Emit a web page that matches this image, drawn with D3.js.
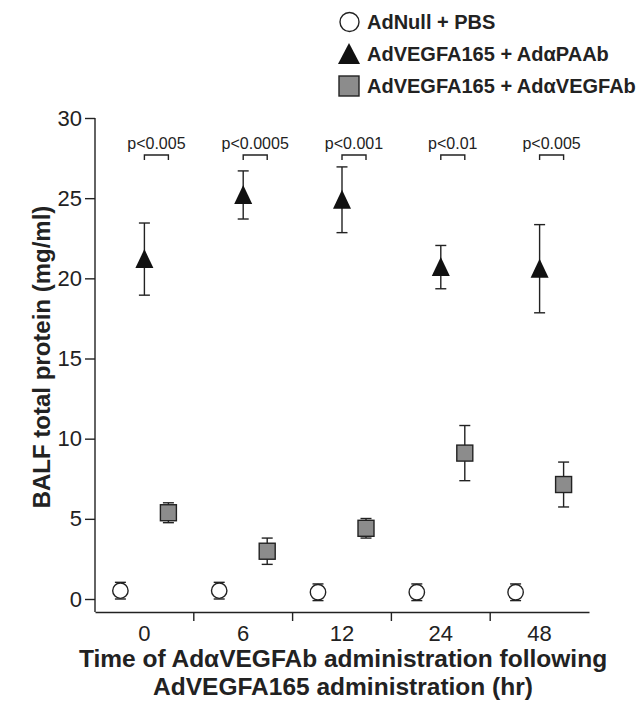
<!DOCTYPE html>
<html>
<head>
<meta charset="utf-8">
<script src="https://cdn.jsdelivr.net/npm/d3@7"></script>
<style>
  body { margin: 0; background: #fff; }
  svg { display: block; font-family: "Liberation Sans", Arial, Helvetica, sans-serif; }
</style>
</head>
<body>
<div id="chart"></div>
<script>
// values (mg/ml, mean and error)
const timepoints = ["0", "6", "12", "24", "48"];
const seriesNames = ["AdNull + PBS", "AdVEGFA165 + AdαPAAb", "AdVEGFA165 + AdαVEGFAb"];
const nullMean = [0.52, 0.52, 0.42, 0.42, 0.42];
const nullErr = [0.52, 0.52, 0.52, 0.52, 0.52];
const paaMean = [21.2, 25.2, 24.9, 20.7, 20.6];
const paaErr = [2.25, 1.5, 2.05, 1.35, 2.75];
const vegfMean = [5.38, 2.98, 4.41, 9.1, 7.14];
const vegfErr = [0.62, 0.82, 0.61, 1.72, 1.4];
const pLabels = ["p<0.005", "p<0.0005", "p<0.001", "p<0.01", "p<0.005"];
const yTicks = [0, 5, 10, 15, 20, 25, 30];

const W = 642, H = 704;
const ink = "#222";

const svg = d3.select("#chart").append("svg")
  .attr("width", W)
  .attr("height", H);

const x = d3.scaleBand().domain(timepoints).range([95, 589]);
const y = d3.scaleLinear().domain([0, 30]).range([599, 118]);
const axisY = 612;

// offsets of the three groups inside a band
const offset = [-24, 0, 24];
const cx = (t, s) => x(t) + x.bandwidth() / 2 + offset[s];

const series = [
  {mean: nullMean, err: nullErr, shape: "circle"},
  {mean: paaMean, err: paaErr, shape: "triangle"},
  {mean: vegfMean, err: vegfErr, shape: "square"}
];

// axes
const yAxis = d3.axisLeft(y).tickValues(yTicks).tickSize(10).tickPadding(3);
const gy = svg.append("g").attr("transform", "translate(95,0)").call(yAxis);
gy.select(".domain").remove();
gy.selectAll("line").attr("stroke", ink).attr("stroke-width", 1.4);
gy.selectAll("text").attr("font-size", 22).attr("fill", ink).attr("font-family", null);

svg.append("line")
  .attr("x1", 95).attr("x2", 95)
  .attr("y1", y(30)).attr("y2", axisY)
  .attr("stroke", ink).attr("stroke-width", 1.4);

const xAxis = d3.axisBottom(x).tickSize(0).tickPadding(13);
const gx = svg.append("g").attr("transform", `translate(0,${axisY})`).call(xAxis);
gx.select(".domain").attr("stroke", ink).attr("stroke-width", 1.4);
gx.selectAll("text").attr("font-size", 22).attr("fill", ink).attr("font-family", null);

// separators between bands
svg.append("g")
  .selectAll("line")
  .data(timepoints.slice(1))
  .join("line")
  .attr("x1", d => x(d)).attr("x2", d => x(d))
  .attr("y1", axisY).attr("y2", axisY + 9)
  .attr("stroke", ink).attr("stroke-width", 1.4);

// axis titles
svg.append("text")
  .attr("transform", `translate(50,${(y(30) + axisY) / 2 - 8}) rotate(-90)`)
  .attr("text-anchor", "middle")
  .attr("font-size", 24)
  .attr("font-weight", "bold")
  .attr("fill", ink)
  .text("BALF total protein (mg/ml)");

const xt = svg.append("text")
  .attr("text-anchor", "middle")
  .attr("font-size", 24.5)
  .attr("font-weight", "bold")
  .attr("fill", ink);
xt.append("tspan").attr("x", 343).attr("y", 667).text("Time of AdαVEGFAb administration following");
xt.append("tspan").attr("x", 343).attr("y", 695).text("AdVEGFA165 administration (hr)");

// marker shapes
function drawMarker(g, shape, px, py) {
  if (shape === "circle") {
    g.append("circle").attr("cx", px).attr("cy", py).attr("r", 7.7)
      .attr("fill", "#fff").attr("stroke", ink).attr("stroke-width", 1.4);
  } else if (shape === "triangle") {
    g.append("path")
      .attr("d", `M${px},${py - 10}L${px + 9},${py + 9}L${px - 9},${py + 9}Z`)
      .attr("fill", "#111");
  } else {
    g.append("rect").attr("x", px - 8).attr("y", py - 8)
      .attr("width", 16).attr("height", 16)
      .attr("fill", "#8c8c8c").attr("stroke", ink).attr("stroke-width", 1.4);
  }
}

// error bars then markers
const errG = svg.append("g").attr("stroke", ink).attr("stroke-width", 1.4);
const markG = svg.append("g");
series.forEach((s, si) => {
  timepoints.forEach((t, i) => {
    const px = cx(t, si);
    const top = y(s.mean[i] + s.err[i]);
    const bot = y(s.mean[i] - s.err[i]);
    errG.append("line").attr("x1", px).attr("x2", px).attr("y1", top).attr("y2", bot);
    errG.append("line").attr("x1", px - 5.5).attr("x2", px + 5.5).attr("y1", top).attr("y2", top);
    errG.append("line").attr("x1", px - 5.5).attr("x2", px + 5.5).attr("y1", bot).attr("y2", bot);
    drawMarker(markG, s.shape, px, y(s.mean[i]));
  });
});

// significance brackets
const pg = svg.append("g");
timepoints.forEach((t, i) => {
  const a = cx(t, 1), b = cx(t, 2);
  pg.append("path")
    .attr("d", `M${a},160V155H${b}V160`)
    .attr("fill", "none").attr("stroke", ink).attr("stroke-width", 1.4);
  pg.append("text")
    .attr("x", (a + b) / 2).attr("y", 149)
    .attr("text-anchor", "middle")
    .attr("font-size", 16)
    .attr("fill", ink)
    .text(pLabels[i]);
});

// legend
const legendY = [22, 54, 86];
const lg = svg.append("g");
seriesNames.forEach((name, i) => {
  const shape = series[i].shape;
  const ly = legendY[i];
  if (shape === "circle") {
    lg.append("circle").attr("cx", 349.5).attr("cy", ly).attr("r", 9.5)
      .attr("fill", "#fff").attr("stroke", ink).attr("stroke-width", 1.4);
  } else if (shape === "triangle") {
    lg.append("path")
      .attr("d", `M349,${ly - 11}L360,${ly + 10}L338,${ly + 10}Z`)
      .attr("fill", "#111");
  } else {
    lg.append("rect").attr("x", 339).attr("y", ly - 10).attr("width", 20).attr("height", 20)
      .attr("fill", "#8c8c8c").attr("stroke", ink).attr("stroke-width", 1.4);
  }
  lg.append("text")
    .attr("x", 367).attr("y", ly + 7)
    .attr("font-size", 20)
    .attr("font-weight", "bold")
    .attr("fill", ink)
    .text(name);
});
</script>
</body>
</html>
